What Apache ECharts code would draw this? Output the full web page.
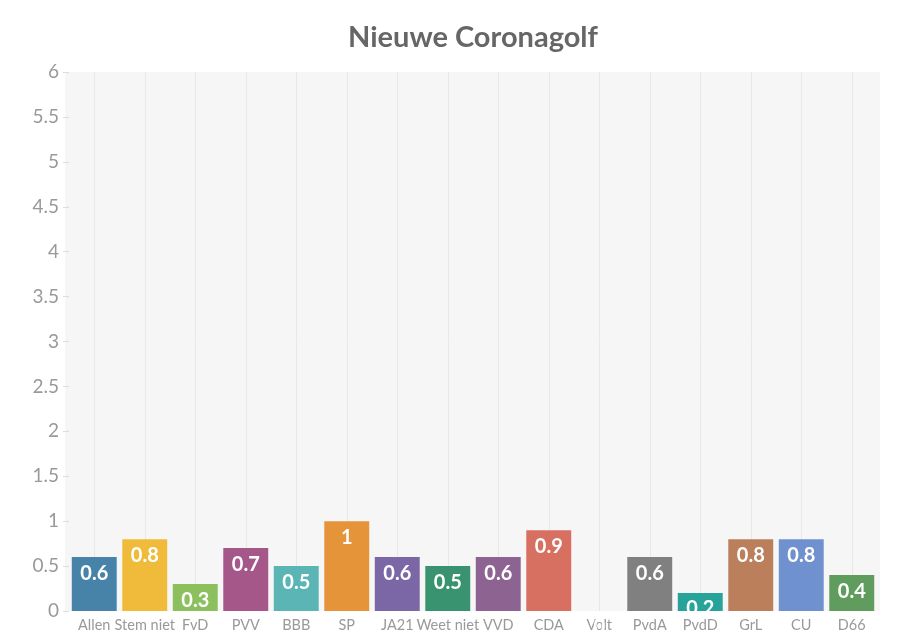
<!DOCTYPE html>
<html>
<head>
<meta charset="utf-8">
<script src="https://cdn.jsdelivr.net/npm/echarts@6/dist/echarts.min.js"></script>
<style>html,body{margin:0;padding:0;background:#fff;}#c{width:901px;height:644px;}</style>
</head>
<body>
<div id="c"></div>
<script>
const title = 'Nieuwe Coronagolf';
const categories = ['Allen','Stem niet','FvD','PVV','BBB','SP','JA21','Weet niet','VVD','CDA','Volt','PvdA','PvdD','GrL','CU','D66'];
const values = [0.6,0.8,0.3,0.7,0.5,1,0.6,0.5,0.6,0.9,0,0.6,0.2,0.8,0.8,0.4];
const colors = ['#4783a9','#f0bb3b','#8cbf5e','#a5578a','#5cb5b5','#e5943a','#7c67a6','#3a9370','#8d6491','#d77061','#cccccc','#808080','#27a39a','#bb7f5c','#6f91d0','#5f9c5e'];
const yTicks = {min:0, max:6, interval:0.5};

const chart = echarts.init(document.getElementById('c'));
chart.setOption({
  animation:false,
  backgroundColor:'#ffffff',
  graphic:[{type:'rect',left:65,top:72,shape:{width:815,height:539},style:{fill:'#f6f6f6'},z:-10,silent:true}],
  title:{text:title,left:468,textAlign:'center',top:18,textStyle:{fontFamily:'Lato',fontWeight:'bold',fontSize:29,color:'#666666'}},
  grid:{left:69,right:24,top:72,bottom:33,show:false},
  xAxis:{type:'category',data:categories,
    axisLine:{show:false},axisTick:{show:false},
    axisLabel:{color:'#999999',fontFamily:'Lato',fontSize:14.5,margin:7,interval:0},
    splitLine:{show:true,alignWithLabel:true,lineStyle:{color:'#e8e8e8',width:1}}},
  yAxis:{type:'value',min:yTicks.min,max:yTicks.max,interval:yTicks.interval,
    axisLine:{show:false},
    axisTick:{show:true,length:6,lineStyle:{color:'#dddddd'}},
    splitLine:{show:false},
    axisLabel:{color:'#999999',fontFamily:'Lato',fontSize:19,margin:10}},
  series:[{type:'bar',barCategoryGap:'11%',
    data:values.map((v,i)=>({value:v,itemStyle:{color:colors[i]}})),
    label:{show:true,position:'insideTop',distance:6,color:'#ffffff',fontFamily:'Lato',fontWeight:'bold',fontSize:20}}]
});
</script>
</body>
</html>
